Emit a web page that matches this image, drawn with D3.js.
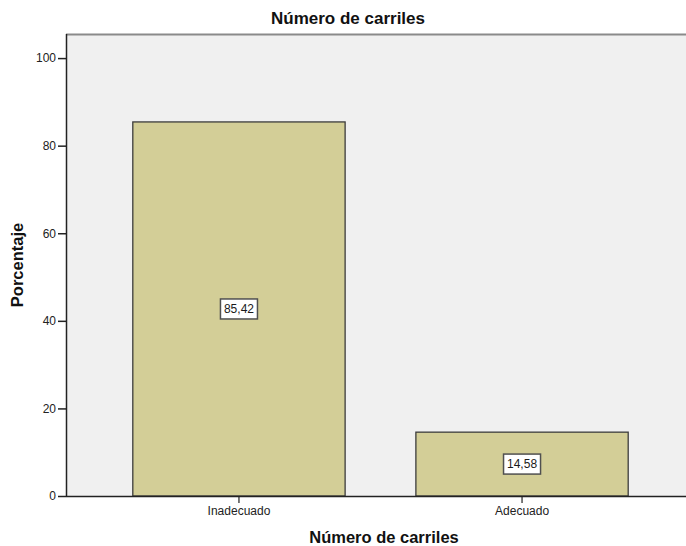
<!DOCTYPE html>
<html>
<head>
<meta charset="utf-8">
<script src="https://cdn.jsdelivr.net/npm/d3@7"></script>
<style>
  html, body { margin: 0; padding: 0; background: #ffffff; }
  svg { display: block; font-family: "Liberation Sans", Arial, sans-serif; }
</style>
</head>
<body>
<svg id="chart" width="686" height="546"></svg>
<script>
// Data
const categories = ["Inadecuado", "Adecuado"];
const percentages = [85.42, 14.58];
const yTicks = [0, 20, 40, 60, 80, 100];

const chartTitle = "Número de carriles";
const xTitle = "Número de carriles";
const yTitle = "Porcentaje";

const esLocale = d3.formatLocale({ decimal: ",", thousands: ".", grouping: [3], currency: ["", " €"] });
const fmtValue = esLocale.format(".2f");

const svg = d3.select("#chart");
const W = 686, H = 546;
const plotLeft = 66, plotTop = 34, plotBottom = 496, rightExtent = 695;

const x = d3.scaleBand()
  .domain(categories)
  .range([plotLeft, rightExtent])
  .paddingInner(0.25)
  .paddingOuter(0.236);

const y = d3.scaleLinear()
  .domain([0, 105.5])
  .range([plotBottom, plotTop]);

// Plot background
svg.append("rect")
  .attr("x", plotLeft).attr("y", plotTop)
  .attr("width", W - plotLeft).attr("height", plotBottom - plotTop)
  .attr("fill", "#f0f0f0");

// Top frame line
svg.append("line")
  .attr("x1", plotLeft).attr("x2", W)
  .attr("y1", plotTop + 0.5).attr("y2", plotTop + 0.5)
  .attr("stroke", "#8a8a8a").attr("stroke-width", 2);

// Bars
svg.append("g").selectAll("rect")
  .data(categories)
  .join("rect")
  .attr("x", d => x(d))
  .attr("y", (d, i) => y(percentages[i]))
  .attr("width", x.bandwidth())
  .attr("height", (d, i) => y(0) - y(percentages[i]))
  .attr("fill", "#d3ce97")
  .attr("stroke", "#3c3c3c")
  .attr("stroke-width", 1.3);

// Value labels in boxes at the middle of each bar
const labels = svg.append("g").selectAll("g")
  .data(categories)
  .join("g")
  .attr("transform", (d, i) => `translate(${x(d) + x.bandwidth() / 2},${(y(percentages[i]) + y(0)) / 2})`);

labels.append("rect")
  .attr("x", -18.5).attr("y", -10)
  .attr("width", 37).attr("height", 20)
  .attr("fill", "#ffffff")
  .attr("stroke", "#505050")
  .attr("stroke-width", 1.5);

labels.append("text")
  .attr("text-anchor", "middle")
  .attr("dy", "0.36em")
  .attr("font-size", 12)
  .attr("fill", "#1a1a1a")
  .text((d, i) => fmtValue(percentages[i]));

// Y axis
const yAxis = svg.append("g")
  .attr("transform", `translate(${plotLeft},0)`)
  .call(d3.axisLeft(y).tickValues(yTicks).tickSize(8).tickPadding(2).tickFormat(d3.format("d")));
yAxis.select(".domain").remove();
yAxis.selectAll(".tick line").attr("stroke", "#222").attr("stroke-width", 1.5);
yAxis.selectAll(".tick text").attr("font-size", 12).attr("fill", "#222")
  .attr("font-family", "Liberation Sans, Arial, sans-serif");
svg.append("line")
  .attr("x1", plotLeft + 0.5).attr("x2", plotLeft + 0.5)
  .attr("y1", plotTop).attr("y2", plotBottom)
  .attr("stroke", "#222").attr("stroke-width", 1.5);

// X axis
const xAxis = svg.append("g")
  .attr("transform", `translate(0,${plotBottom})`)
  .call(d3.axisBottom(x).tickSize(7).tickPadding(3));
xAxis.select(".domain").remove();
xAxis.selectAll(".tick line").attr("stroke", "#222").attr("stroke-width", 1.2);
xAxis.selectAll(".tick text").attr("font-size", 12).attr("fill", "#222")
  .attr("font-family", "Liberation Sans, Arial, sans-serif");
svg.append("line")
  .attr("x1", plotLeft).attr("x2", W)
  .attr("y1", plotBottom + 0.5).attr("y2", plotBottom + 0.5)
  .attr("stroke", "#222").attr("stroke-width", 1.5);

// Titles
svg.append("text")
  .attr("x", 348).attr("y", 24)
  .attr("text-anchor", "middle")
  .attr("font-size", 17).attr("font-weight", "bold").attr("fill", "#111")
  .text(chartTitle);

svg.append("text")
  .attr("x", 384).attr("y", 543)
  .attr("text-anchor", "middle")
  .attr("font-size", 16.5).attr("font-weight", "bold").attr("fill", "#111")
  .text(xTitle);

svg.append("text")
  .attr("transform", "translate(23,265) rotate(-90)")
  .attr("text-anchor", "middle")
  .attr("font-size", 16.5).attr("font-weight", "bold").attr("fill", "#111")
  .text(yTitle);
</script>
</body>
</html>
